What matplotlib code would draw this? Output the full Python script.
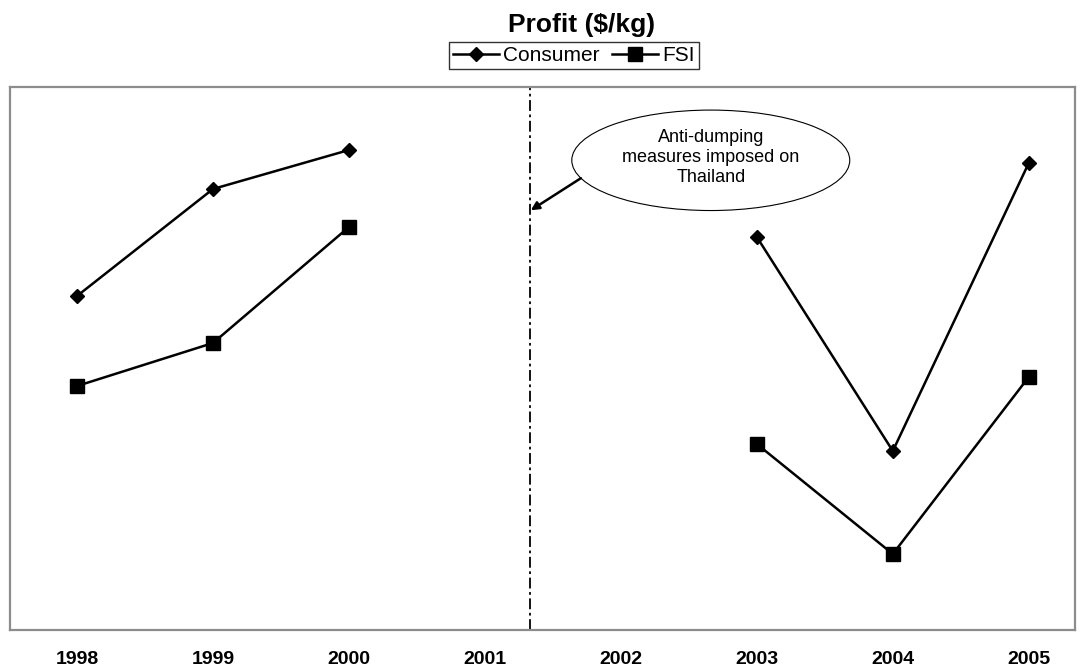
import matplotlib
matplotlib.use("Agg")
import matplotlib.pyplot as plt
from matplotlib.patches import Ellipse

plt.rcParams['font.family'] = ['Liberation Sans', 'DejaVu Sans']

years = ["1998", "1999", "2000", "2001", "2002", "2003", "2004", "2005"]
consumer_x = [0, 1, 2, 5, 6, 7]
consumer = [3.34, 4.41, 4.80, 3.93, 1.79, 4.67]
fsi_x = [0, 1, 2, 5, 6, 7]
fsi = [2.44, 2.87, 4.03, 1.86, 0.76, 2.53]
event_x = 3.33
event_text = "Anti-dumping\nmeasures imposed on\nThailand"

fig = plt.figure(figsize=(10.88, 6.71), dpi=100)
ax = fig.add_axes([10 / 1088, 1 - 630 / 671, 1065 / 1088, 543 / 671])

# first and last segment of each series are drawn separately (no 2001/2002 data)
def draw(xs, ys, marker, ms, label):
    h = None
    for seg in (slice(0, 3), slice(3, 6)):
        h, = ax.plot(xs[seg], ys[seg], color='black', lw=1.8, marker=marker,
                     ms=ms, mec='black', mfc='black', label=label)
    return h

h1 = draw(consumer_x, consumer, 'D', 7.5, 'Consumer')
h2 = draw(fsi_x, fsi, 's', 10.5, 'FSI')

ax.set_xlim(-0.493, 7.34)
ax.set_ylim(0, 5.43)
ax.set_xticks(range(len(years)))
ax.set_xticklabels(years, fontsize=14, fontweight='bold')
ax.tick_params(axis='x', length=0, pad=15)
ax.set_yticks([])
for s in ax.spines.values():
    s.set_color('#8c8c8c')
    s.set_linewidth(1.6)

ax.axvline(event_x, color='black', lw=1.3, ls=(0, (6, 2, 1.5, 2)))

ax.add_patch(Ellipse((0.658, 0.865), 0.261, 0.185, transform=ax.transAxes,
                     facecolor='white', edgecolor='black', lw=0.8, zorder=4))
ax.text(0.658, 0.870, event_text, transform=ax.transAxes, ha='center',
        va='center', fontsize=13, linespacing=1.2, zorder=5)
ax.annotate('', xy=(0.489, 0.773), xycoords='axes fraction',
            xytext=(0.536, 0.832), textcoords='axes fraction',
            arrowprops=dict(arrowstyle='-|>', color='black', lw=1.8,
                            mutation_scale=12, shrinkA=0, shrinkB=0), zorder=5)

fig.text(582 / 1088, 1 - 13 / 671, "Profit ($/kg)", ha='center', va='top',
         fontsize=19, fontweight='bold')
leg = fig.legend([h1, h2], ['Consumer', 'FSI'], loc='upper center',
                 bbox_to_anchor=(574 / 1088, 1 - 42 / 671), ncol=2,
                 fontsize=15, frameon=True, fancybox=False, edgecolor='black',
                 handlelength=2.2, handletextpad=0.2, columnspacing=0.6,
                 borderpad=0.2, borderaxespad=0)
leg.get_frame().set_linewidth(1.0)

fig.savefig("out.png", dpi=100)
